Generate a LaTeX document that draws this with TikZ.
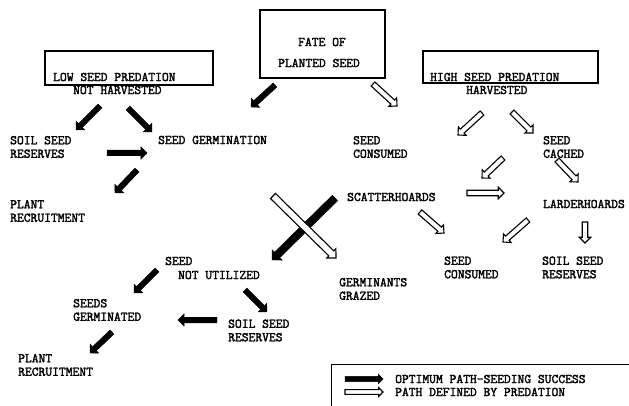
\documentclass[tikz,border=0pt]{standalone}
\usepackage{fontspec}
\newfontfamily\twfont[FakeBold=2.2]{Latin Modern Mono}
\usetikzlibrary{calc,shapes.arrows}
\newcommand\lbf{\fontsize{13.2}{13.5}\selectfont\twfont}
\tikzset{
  lbl/.style={font=\lbf, align=left, inner sep=0pt, anchor=west},
  ctr/.style={font=\lbf, inner sep=0pt, anchor=center},
  boxx/.style={draw, line width=1.1pt, inner sep=0pt},
  arrbase/.style={single arrow, inner sep=2.6pt, outer sep=0pt, single arrow head extend=3.4pt, single arrow tip angle=90, anchor=tail},
  blk/.style={arrbase, draw=black, fill=black, line width=0.4pt},
  hol/.style={arrbase, draw=black, fill=white, line width=1.1pt, inner sep=2.2pt, single arrow head extend=3pt},
}
\newcommand\fatarr[3][blk]{%
  \path let \p1=($(#3)-(#2)$), \n1={atan2(\y1,\x1)}, \n2={veclen(\x1,\y1)} in
    node[#1, minimum height=\n2, rotate=\n1] at (#2) {};}
\begin{document}
\begin{tikzpicture}[x=1pt,y=-1pt]
\useasboundingbox (0,0) rectangle (629,406);
% boxes
\node[boxx, minimum width=125pt, minimum height=68pt] (fatebox) at (322.5,44) {};
\node[boxx, minimum width=168pt, minimum height=34pt] (lowbox) at (129,68) {};
\node[boxx, minimum width=175pt, minimum height=32pt] (highbox) at (510.5,67) {};
\node[ctr] (fate1) at (322,42) {FATE OF};
\node[ctr] (fate2) at (319,63) {PLANTED SEED};
\node[lbl] (low1) at (53,77) {LOW SEED PREDATION};
\node[lbl] (low2) at (73,90) {NOT HARVESTED};
\node[lbl] (high1) at (430,77) {HIGH SEED PREDATION};
\node[lbl] (high2) at (466,90) {HARVESTED};
% labels
\node[lbl] (soilL) at (10,147) {SOIL SEED\\RESERVES};
\node[lbl] (germ) at (158,140) {SEED GERMINATION};
\node[lbl] (plantL) at (10,211) {PLANT\\RECRUITMENT};
\node[lbl] (cons1) at (353,147) {SEED\\CONSUMED};
\node[lbl] (cached) at (543,147) {SEED\\CACHED};
\node[lbl] (scatter) at (347,197) {SCATTERHOARDS};
\node[lbl] (larder) at (543,204) {LARDERHOARDS};
\node[lbl] (cons2) at (444,267.5) {SEED\\CONSUMED};
\node[lbl] (soilR) at (542,267.5) {SOIL SEED\\RESERVES};
\node[lbl] (grazed) at (339,289) {GERMINANTS\\GRAZED};
\node[lbl] (nu1) at (165,261) {SEED};
\node[lbl] (nu2) at (178,275) {NOT UTILIZED};
\node[lbl] (sgerm) at (73,310) {SEEDS\\GERMINATED};
\node[lbl] (soilB) at (228,330.5) {SOIL SEED\\RESERVES};
\node[lbl] (plantB) at (18,365) {PLANT\\RECRUITMENT};
% arrow end points
\coordinate (b1t) at (275,85);  \coordinate (b1h) at (251,107);
\coordinate (b2t) at (100,106); \coordinate (b2h) at (76,130);
\coordinate (b3t) at (128,108); \coordinate (b3h) at (152,132);
\coordinate (b4t) at (107,153); \coordinate (b4h) at (147,153);
\coordinate (b5t) at (137,170); \coordinate (b5h) at (115,193);
\coordinate (b6t) at (335,198); \coordinate (b6h) at (272,260);
\coordinate (b7t) at (157,270); \coordinate (b7h) at (134,293);
\coordinate (b8t) at (245,290); \coordinate (b8h) at (267,312);
\coordinate (b9t) at (217,320); \coordinate (b9h) at (178,320);
\coordinate (b10t) at (112,332); \coordinate (b10h) at (90,353);
\coordinate (h1t) at (373,84);  \coordinate (h1h) at (397,106);
\coordinate (h2t) at (482,113); \coordinate (h2h) at (458,135);
\coordinate (h3t) at (512,112); \coordinate (h3h) at (533,133);
\coordinate (h4t) at (503,158); \coordinate (h4h) at (482,178);
\coordinate (h5t) at (557,160); \coordinate (h5h) at (578,182);
\coordinate (h6t) at (467,193); \coordinate (h6h) at (504,193);
\coordinate (h7t) at (420,212); \coordinate (h7h) at (444,233);
\coordinate (h8t) at (528,220); \coordinate (h8h) at (503,242);
\coordinate (h9t) at (585,222); \coordinate (h9h) at (585,243);
\coordinate (h10t) at (273,196); \coordinate (h10h) at (336,258);
\coordinate (lbt) at (345,379); \coordinate (lbh) at (383,379);
\coordinate (lht) at (345,392); \coordinate (lhh) at (383,392);
% black arrows
\fatarr{b1t}{b1h}
\fatarr{b2t}{b2h}
\fatarr{b3t}{b3h}
\fatarr{b4t}{b4h}
\fatarr{b5t}{b5h}
\fatarr[blk, inner sep=3.6pt, single arrow head extend=3.4pt]{b6t}{b6h}
\fatarr{b7t}{b7h}
\fatarr{b8t}{b8h}
\fatarr{b9t}{b9h}
\fatarr{b10t}{b10h}
% hollow arrows
\fatarr[hol]{h1t}{h1h}
\fatarr[hol]{h2t}{h2h}
\fatarr[hol]{h3t}{h3h}
\fatarr[hol]{h4t}{h4h}
\fatarr[hol]{h5t}{h5h}
\fatarr[hol]{h6t}{h6h}
\fatarr[hol]{h7t}{h7h}
\fatarr[hol]{h8t}{h8h}
\fatarr[hol]{h9t}{h9h}
\fatarr[hol, inner sep=3pt]{h10t}{h10h}
% legend
\coordinate (lg1) at (331,406); \coordinate (lg2) at (331,364); \coordinate (lg3) at (629,364);
\draw[line width=1pt] (lg1) -- (lg2) -- (lg3);
\fatarr[blk, inner sep=2.4pt, single arrow head extend=2pt]{lbt}{lbh}
\fatarr[hol, inner sep=1.8pt, single arrow head extend=2pt]{lht}{lhh}
\node[lbl] (leg1) at (395,379) {OPTIMUM PATH-SEEDING SUCCESS};
\node[lbl] (leg2) at (395,392) {PATH DEFINED BY PREDATION};
\end{tikzpicture}
\end{document}
